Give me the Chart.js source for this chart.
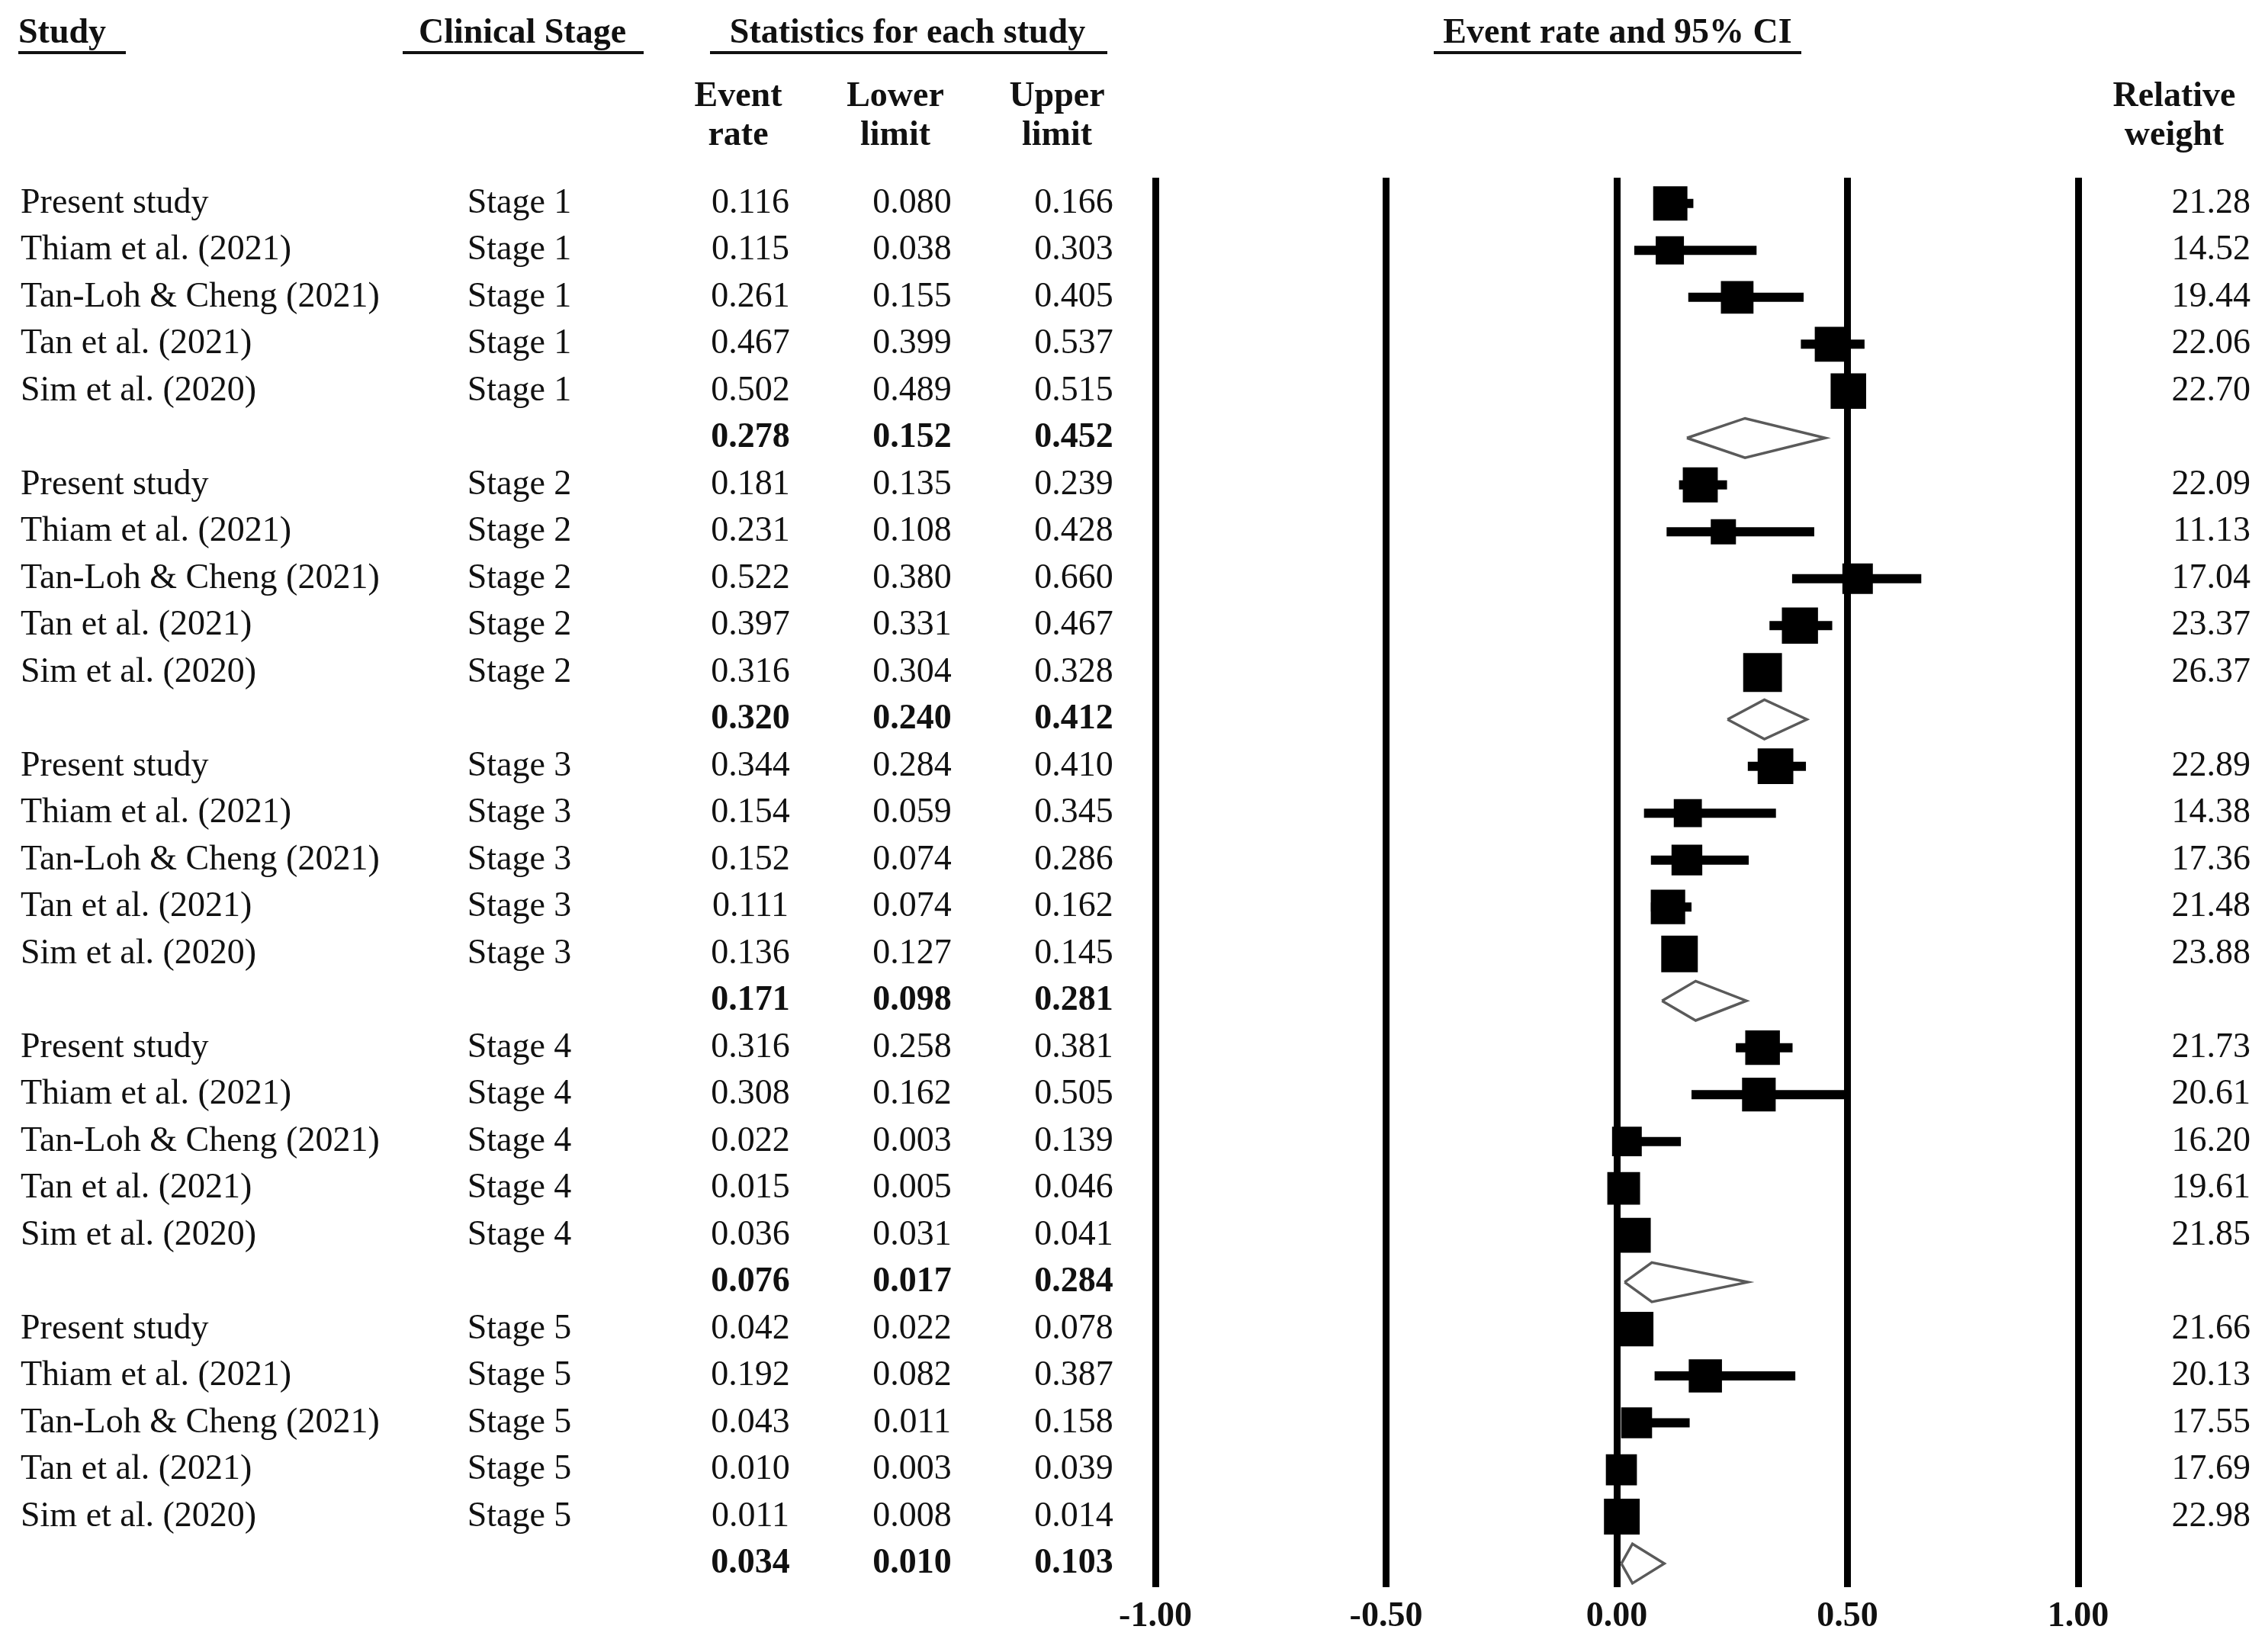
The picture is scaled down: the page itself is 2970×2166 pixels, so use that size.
<!DOCTYPE html>
<html>
<head>
<meta charset="utf-8">
<script src="https://cdn.jsdelivr.net/npm/chart.js@4.4.0/dist/chart.umd.min.js"></script>
<style>
  html, body { margin: 0; padding: 0; background: #fff; }
  #chart { display: block; }
</style>
</head>
<body>
<canvas id="chart" width="2970" height="2166"></canvas>
<script>
const studies = [
  'Present study',
  'Thiam et al. (2021)',
  'Tan-Loh & Cheng (2021)',
  'Tan et al. (2021)',
  'Sim et al. (2020)'
];
const stages = ['Stage 1', 'Stage 2', 'Stage 3', 'Stage 4', 'Stage 5'];

// 5 studies per stage, stage 1 first
const eventRate = [
  0.116, 0.115, 0.261, 0.467, 0.502,
  0.181, 0.231, 0.522, 0.397, 0.316,
  0.344, 0.154, 0.152, 0.111, 0.136,
  0.316, 0.308, 0.022, 0.015, 0.036,
  0.042, 0.192, 0.043, 0.010, 0.011
];
const lowerLimit = [
  0.080, 0.038, 0.155, 0.399, 0.489,
  0.135, 0.108, 0.380, 0.331, 0.304,
  0.284, 0.059, 0.074, 0.074, 0.127,
  0.258, 0.162, 0.003, 0.005, 0.031,
  0.022, 0.082, 0.011, 0.003, 0.008
];
const upperLimit = [
  0.166, 0.303, 0.405, 0.537, 0.515,
  0.239, 0.428, 0.660, 0.467, 0.328,
  0.410, 0.345, 0.286, 0.162, 0.145,
  0.381, 0.505, 0.139, 0.046, 0.041,
  0.078, 0.387, 0.158, 0.039, 0.014
];
const relWeight = [
  21.28, 14.52, 19.44, 22.06, 22.70,
  22.09, 11.13, 17.04, 23.37, 26.37,
  22.89, 14.38, 17.36, 21.48, 23.88,
  21.73, 20.61, 16.20, 19.61, 21.85,
  21.66, 20.13, 17.55, 17.69, 22.98
];

// pooled estimate per stage
const pooledRate = [0.278, 0.320, 0.171, 0.076, 0.034];
const pooledLower = [0.152, 0.240, 0.098, 0.017, 0.010];
const pooledUpper = [0.452, 0.412, 0.281, 0.284, 0.103];

const xTicks = [-1, -0.5, 0, 0.5, 1];

const fmt = v => v.toFixed(3);
const rowOf = k => Math.floor(k / 5) * 6 + (k % 5);
const pooledRowOf = s => s * 6 + 5;

const serif = '"Liberation Serif", "Times New Roman", serif';

const squares = {
  data: eventRate.map((r, k) => ({ x: r, y: rowOf(k) })),
  pointStyle: 'rect',
  pointRadius: relWeight.map(w => (20 + 1.17 * w) / Math.SQRT2),
  pointBackgroundColor: '#000',
  pointBorderWidth: 0,
  showLine: false
};

const ciLines = eventRate.map((r, k) => ({
  data: [
    { x: lowerLimit[k], y: rowOf(k) },
    { x: upperLimit[k], y: rowOf(k) }
  ],
  showLine: true,
  borderColor: '#000',
  borderWidth: 12,
  pointRadius: 0
}));

const diamonds = pooledRate.map((r, s) => {
  const row = pooledRowOf(s);
  return {
    data: [
      { x: pooledLower[s], y: row },
      { x: r, y: row - 0.42 },
      { x: pooledUpper[s], y: row },
      { x: r, y: row + 0.42 },
      { x: pooledLower[s], y: row }
    ],
    showLine: true,
    borderColor: '#5a5a5a',
    borderWidth: 3.5,
    pointRadius: 0,
    tension: 0,
    fill: false
  };
});

const textPlugin = {
  id: 'forestText',
  afterDraw(chart) {
    const ctx = chart.ctx;
    const ys = chart.scales.y;
    ctx.save();
    ctx.fillStyle = '#111';
    ctx.strokeStyle = '#111';
    ctx.textBaseline = 'middle';

    // column headers
    ctx.font = 'bold 46px ' + serif;
    const heads = [
      ['Study', 24, 'left', 24, 165],
      ['Clinical Stage', 685, 'center', 528, 844],
      ['Statistics for each study', 1190, 'center', 931, 1452],
      ['Event rate and 95% CI', 2121, 'center', 1880, 2362]
    ];
    heads.forEach(([t, x, a, u0, u1]) => {
      ctx.textAlign = a;
      ctx.fillText(t, x, 44);
      ctx.fillRect(u0, 67, u1 - u0, 4);
    });
    ctx.textAlign = 'center';
    [['Event', 'rate', 968], ['Lower', 'limit', 1174], ['Upper', 'limit', 1386], ['Relative', 'weight', 2851]]
      .forEach(([a, b, x]) => {
        ctx.fillText(a, x, 127);
        ctx.fillText(b, x, 178);
      });

    // study rows
    ctx.font = '46px ' + serif;
    eventRate.forEach((r, k) => {
      const y = ys.getPixelForValue(rowOf(k));
      ctx.textAlign = 'left';
      ctx.fillText(studies[k % 5], 27, y);
      ctx.textAlign = 'center';
      ctx.fillText(stages[Math.floor(k / 5)], 681, y);
      ctx.fillText(fmt(r), 984, y);
      ctx.fillText(fmt(lowerLimit[k]), 1196, y);
      ctx.fillText(fmt(upperLimit[k]), 1408, y);
      ctx.textAlign = 'right';
      ctx.fillText(relWeight[k].toFixed(2), 2951, y);
    });

    // pooled rows
    ctx.font = 'bold 46px ' + serif;
    ctx.textAlign = 'center';
    pooledRate.forEach((r, s) => {
      const y = ys.getPixelForValue(pooledRowOf(s));
      ctx.fillText(fmt(r), 984, y);
      ctx.fillText(fmt(pooledLower[s]), 1196, y);
      ctx.fillText(fmt(pooledUpper[s]), 1408, y);
    });
    ctx.restore();
  }
};

const config = {
  type: 'scatter',
  data: { datasets: [squares, ...ciLines, ...diamonds] },
  options: {
    responsive: false,
    devicePixelRatio: 1,
    animation: false,
    layout: { padding: { left: 1515, right: 245, top: 233, bottom: 6 } },
    plugins: {
      legend: { display: false },
      tooltip: { enabled: false }
    },
    scales: {
      x: {
        type: 'linear',
        min: -1,
        max: 1,
        afterBuildTicks: axis => { axis.ticks = xTicks.map(v => ({ value: v })); },
        grid: { color: '#000', lineWidth: 9, drawTicks: false },
        border: { display: false },
        ticks: {
          padding: 12,
          color: '#111',
          font: { family: serif, size: 46, weight: 'bold' },
          callback: v => v.toFixed(2)
        }
      },
      y: {
        type: 'linear',
        display: false,
        reverse: true,
        min: -0.55,
        max: 29.5
      }
    }
  },
  plugins: [textPlugin]
};

const myChart = new Chart(document.getElementById('chart'), config);
</script>
</body>
</html>
